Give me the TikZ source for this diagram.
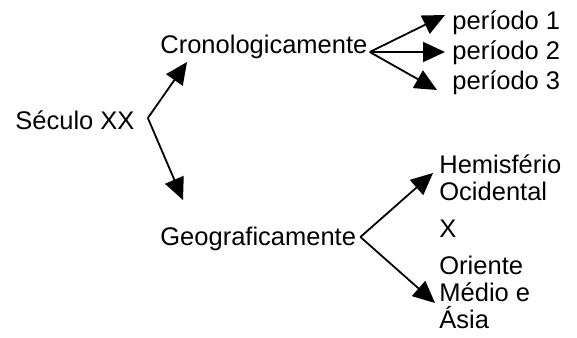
\documentclass[tikz,border=0pt]{standalone}
\usepackage{fontspec}
\setmainfont{Liberation Sans}
\usetikzlibrary{arrows.meta}
\begin{document}
\begin{tikzpicture}[x=0.5pt,y=-0.5pt,line join=round,>={Triangle[length=11pt,width=10pt]},
		font=\fontsize{12.75}{13.4}\selectfont,
		lbl/.style={inner sep=0pt,anchor=base west,align=left},
		seta/.style={->,line width=0.9pt}]
				\useasboundingbox (0,0) rectangle (577,337);
				\node[lbl] (seculo) at (15,129) {Século XX};
				\node[lbl] (crono) at (160,53) {Cronologicamente};
				\node[lbl] (geo) at (160,245) {Geograficamente};
				\node[lbl] (p1) at (452,29) {período 1};
				\node[lbl] (p2) at (452,59) {período 2};
				\node[lbl] (p3) at (452,89) {período 3};
				\node[lbl] (hemi) at (439,200) {Hemisfério\\Ocidental};
				\node[lbl] (xx) at (439,237) {X};
				\node[lbl] (oriente) at (439,328) {Oriente\\Médio e\\Ásia};
				% ramos
				\draw[seta] ([shift={(13,-11)}]seculo.base east) -- ([shift={(27,9)}]crono.base west);
				\draw[seta] ([shift={(13,-11)}]seculo.base east) -- ([shift={(23,-45)}]geo.base west);
				\draw[seta] ([shift={(2,-1)}]crono.base east) -- ([shift={(-7,-14)}]p1.base west);
				\draw[seta] ([shift={(2,-1)}]crono.base east) -- ([shift={(-7,-7)}]p2.base west);
				\draw[seta] ([shift={(2,-1)}]crono.base east) -- ([shift={(-15,1)}]p3.base west);
				\draw[seta] ([shift={(4,-8)}]geo.base east) -- ([shift={(-6,-27)}]hemi.base west);
				\draw[seta] ([shift={(4,-8)}]geo.base east) -- ([shift={(-4,-25)}]oriente.base west);
			\end{tikzpicture}
\end{document}
